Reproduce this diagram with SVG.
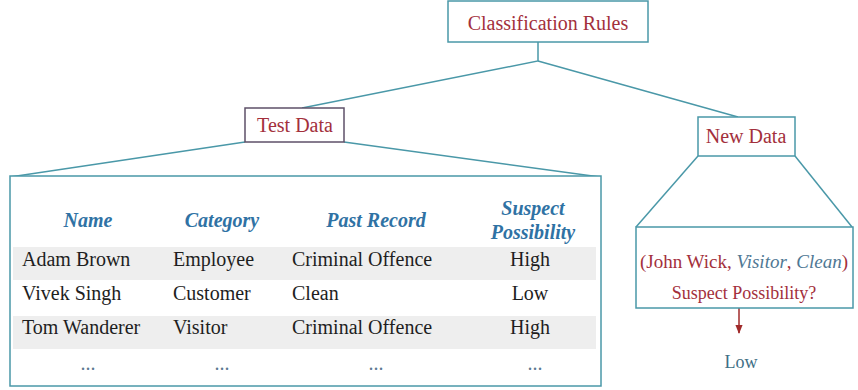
<svg xmlns="http://www.w3.org/2000/svg" width="858" height="390" viewBox="0 0 858 390">
<defs>
<style>
text{font-family:'Liberation Serif','Times New Roman','DejaVu Serif',serif}
.box{fill:#ffffff;stroke:#4a98a8;stroke-width:1.5}
.tbox{fill:#ffffff;stroke:#5e5068;stroke-width:1.5}
.conn{fill:none;stroke:#4a98a8;stroke-width:1.5}
.red{font-size:20px;fill:#a3303c}
.hdr{font-size:20px;font-weight:bold;font-style:italic;fill:#2f72a4}
.cell{font-size:20px;fill:#1e1e1e}
.dots{font-size:20px;fill:#5c7a92}
.it{font-style:italic;fill:#4f7894}
.band{fill:#eeeeee}
</style>
<marker id="arr" viewBox="0 0 10 10" refX="9" refY="5" markerWidth="6" markerHeight="6" orient="auto">
<path d="M0,1 L10,5 L0,9 z" fill="#a02a2a"/>
</marker>
</defs>
<rect width="858" height="390" fill="#ffffff"/>
<g id="connectors">
<polyline class="conn" points="538,42 538,61 302,108"/>
<polyline class="conn" points="538,61 738,117"/>
<line class="conn" x1="245" y1="142" x2="10" y2="177"/>
<line class="conn" x1="344" y1="142" x2="600" y2="177"/>
<line class="conn" x1="698" y1="156" x2="636" y2="227"/>
<line class="conn" x1="795" y1="156" x2="852" y2="227"/>
<line x1="739" y1="308" x2="739" y2="333" stroke="#a02a2a" stroke-width="1.5" marker-end="url(#arr)"/>
</g>
<g id="classification-rules">
<rect class="box" x="448" y="1" width="200" height="41"/>
<text class="red" x="548" y="30" text-anchor="middle">Classification Rules</text>
</g>
<g id="test-data">
<rect class="tbox" x="245" y="108" width="99" height="34"/>
<text class="red" x="295" y="132" text-anchor="middle">Test Data</text>
</g>
<g id="new-data">
<rect class="box" x="698" y="117" width="97" height="39"/>
<text class="red" x="746" y="143" text-anchor="middle">New Data</text>
</g>
<g id="table">
<rect class="box" x="10" y="176" width="591" height="210"/>
<rect class="band" x="13" y="247" width="583" height="33"/>
<rect class="band" x="13" y="316" width="583" height="33"/>
<text class="hdr" x="88" y="227" text-anchor="middle">Name</text>
<text class="hdr" x="222" y="227" text-anchor="middle">Category</text>
<text class="hdr" x="376" y="227" text-anchor="middle">Past Record</text>
<text class="hdr" x="533" y="215" text-anchor="middle">Suspect</text>
<text class="hdr" x="533" y="239" text-anchor="middle">Possibility</text>
<text class="cell" x="22" y="266">Adam Brown</text>
<text class="cell" x="173" y="266">Employee</text>
<text class="cell" x="292" y="266">Criminal Offence</text>
<text class="cell" x="530" y="266" text-anchor="middle">High</text>
<text class="cell" x="22" y="300">Vivek Singh</text>
<text class="cell" x="173" y="300">Customer</text>
<text class="cell" x="292" y="300">Clean</text>
<text class="cell" x="530" y="300" text-anchor="middle">Low</text>
<text class="cell" x="22" y="334">Tom Wanderer</text>
<text class="cell" x="173" y="334">Visitor</text>
<text class="cell" x="292" y="334">Criminal Offence</text>
<text class="cell" x="530" y="334" text-anchor="middle">High</text>
<text class="dots" x="88" y="370" text-anchor="middle">...</text>
<text class="dots" x="222" y="370" text-anchor="middle">...</text>
<text class="dots" x="376" y="370" text-anchor="middle">...</text>
<text class="dots" x="535" y="370" text-anchor="middle">...</text>
</g>
<g id="query">
<rect class="box" x="636" y="227" width="217" height="81"/>
<text class="red" x="744" y="268" text-anchor="middle" style="font-size:19px">(John Wick, <tspan class="it">Visitor</tspan>, <tspan class="it">Clean</tspan>)</text>
<text class="red" x="744" y="299" text-anchor="middle" style="font-size:18px">Suspect Possibility?</text>
</g>
<g id="result">
<text x="741" y="368" text-anchor="middle" style="font-size:18px" fill="#3f6f86">Low</text>
</g>
</svg>
